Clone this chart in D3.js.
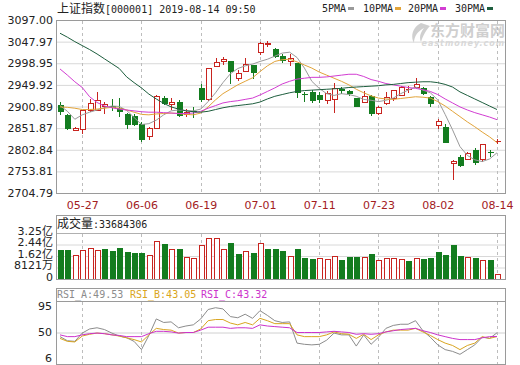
<!DOCTYPE html>
<html>
<head>
<meta charset="utf-8">
<script src="https://cdn.jsdelivr.net/npm/d3@7"></script>
<style>
body { margin: 0; background: #fff; }
text { font-family: "DejaVu Sans", "Noto Sans CJK SC", sans-serif; }
</style>
</head>
<body>
<script>
var width = 520, height = 365;

var dates = ["05-22","05-23","05-24","05-27","05-28","05-29","05-30","05-31","06-03","06-04",
  "06-05","06-06","06-10","06-11","06-12","06-13","06-14","06-17","06-18","06-19",
  "06-20","06-21","06-24","06-25","06-26","06-27","06-28","07-01","07-02","07-03",
  "07-04","07-05","07-08","07-09","07-10","07-11","07-12","07-15","07-16","07-17",
  "07-18","07-19","07-22","07-23","07-24","07-25","07-26","07-29","07-30","07-31",
  "08-01","08-02","08-05","08-06","08-07","08-08","08-09","08-12","08-13","08-14"];

var opens = [2905,2881,2848,2851,2892,2894,2903,2902,2898,2884,
  2879,2861,2833,2853,2920,2907,2911,2885,2891,2942,
  2917,2992,3005,3003,2965,2982,2994,3025,3042,3031,
  3016,3003,2999,2929.5,2934,2928,2915,2917,2940,2935,
  2920,2912,2924,2886,2908,2920,2927,2940,2946,2943,
  2922,2860,2855,2772,2787,2783,2802,2782,2798,2822];
var highs = [2912,2885,2855,2893,2918,2934,2910,2919,2920,2886,
  2883,2866,2855,2927,2925,2920,2915,2895,2899,2953,
  2989,3010,3012,3004,2984,3010,2995,3048,3049,3034,
  3020,3021,3000,2934,2938,2934,2937,2955,2946,2939,
  2921,2937,2926,2901,2934,2938,2947,2947,2966,2946,
  2925,2873,2861,2780,2792,2798,2807,2816,2802,2828];
var lows = [2882,2848,2845,2838,2888,2890,2884,2890,2878,2851,
  2857,2821,2825,2850,2904,2893,2878,2876,2874,2912,
  2914,2990,2995,2952,2958,2980,2963,3017,3035,3010,
  3000,2993,2920,2912,2908,2908,2906,2887,2930,2925,
  2900,2910,2879,2882,2905,2913,2925,2932,2942,2927,
  2900,2851,2820,2734,2764,2780,2769,2776,2787,2817];
var closes = [2891.7,2852.5,2853.0,2892.4,2909.9,2914.7,2905.8,2898.7,2890.1,2862.3,
  2861.4,2827.8,2852.1,2925.7,2909.4,2910.7,2882.0,2887.6,2890.2,2917.8,
  2987.1,3002.0,3008.2,2982.1,2976.3,2996.8,2978.9,3044.9,3043.9,3015.3,
  3005.3,3011.1,2933.4,2928.2,2915.3,2917.8,2930.6,2942.2,2937.6,2931.7,
  2902.0,2924.2,2887.0,2899.9,2923.3,2937.4,2944.5,2941.0,2952.3,2932.5,
  2908.8,2867.8,2821.5,2777.6,2768.7,2794.6,2774.8,2815.0,2797.3,2823.0];

var ma5 = [2903,2890,2872,2882,2888,2893,2898,2902,2901,2892,
  2876,2860,2862,2870,2882,2891,2893,2892,2891,2895,
  2912,2932,2955,2975,2987,2993,2997,3003,3008,3015,
  3022,3024,3012,2988,2958,2942,2930,2926,2930,2928,
  2924,2917,2915,2912,2915,2920,2930,2938,2945,2938,
  2932,2916,2883,2848,2810,2790,2780,2776,2782,2796];
var ma10 = [2900,2899,2897,2894,2894,2895,2897,2899,2897,2893,
  2888,2883,2882,2884,2885,2886,2885,2883,2882,2886,
  2900,2916,2930,2940,2950,2958,2966,2980,2993,3003,
  3007,3008,3002,2995,2988,2979,2972,2965,2958,2950,
  2940,2932,2925,2920,2918,2917,2919,2921,2923,2922,
  2920,2912,2902,2890,2878,2866,2855,2843,2832,2819];
var ma20 = [2986,2972,2957,2944,2923,2910,2902,2898,2895,2893,
  2891,2889,2888,2888,2887,2886,2885,2885,2886,2890,
  2897,2903,2909,2912,2914,2917,2920,2927,2935,2943,
  2952,2958,2963,2965,2967,2967,2968,2970,2972,2974,
  2974,2969,2962,2958,2953,2950,2947,2944,2942,2939,
  2935,2928,2918,2909,2900,2893,2887,2882,2877,2871];
var ma30 = [3067,3058,3048,3039,3030,3020,3009,2998,2987,2968,
  2955,2943,2929,2918,2908,2900,2895,2891,2889,2888,
  2890,2894,2898,2901,2903,2905,2907,2911,2918,2924,
  2928,2932,2935,2937,2938,2939,2940,2941,2942,2944,
  2945,2946,2947,2948,2950,2951,2953,2955,2956,2957,
  2957,2955,2951,2945,2934,2926,2918,2910,2902,2894];

// volume in 亿 (100 million)
var volumes = [2.03,2.03,1.68,2.03,2.22,2.03,2.10,1.99,2.17,1.92,
  1.85,1.85,1.68,2.66,2.45,2.15,2.15,1.52,1.45,2.38,
  2.92,2.92,2.15,2.55,1.75,1.96,1.85,2.57,2.15,2.15,
  1.96,1.61,2.15,1.45,1.38,1.45,1.38,1.64,1.33,1.52,
  1.52,1.52,1.80,1.33,1.50,1.45,1.38,1.26,1.45,1.40,
  1.45,1.89,1.68,2.38,1.61,1.52,1.45,1.33,1.33,0.337];
var volUp = [0,0,1,1,1,1,0,0,0,0,
  0,0,1,1,0,1,0,1,1,1,
  1,1,1,0,0,1,0,1,0,0,
  0,1,0,0,0,1,1,1,0,0,
  0,1,0,1,1,1,1,0,1,0,
  0,0,0,0,0,1,0,1,0,1];

var rsiA = [43,36,35,49,56,58,55,49,44,41,
  35,21,45,73,67,68,58,61,63,73,
  89,92,90,77,75,81,74,87,79,70,
  67,68,32,30,29,30,37,49,46,46,
  27,46,30,42,57,62,64,64,70,53,
  42,29,21,18,13,21,29,42,40,49.53];
var rsiB = [40,35,34,44,47,49,48,46,44,41,
  38,34,46,57,55,54,49,50,50,56,
  70,72,72,66,63,67,63,74,70,65,
  65,65,46,43,43,43,46,51,48,47,
  40,47,38,46,51,54,54,54,57,51,
  45,38,32,28,21,28,32,43,40,43.05];
var rsiC = [46,43,43,46,48,49,48,46,45,43,
  43,43,48,52,52,51,49,50,50,54,
  59,59,59,57,58,58,57,63,61,60,
  59,58,50,50,50,50,51,52,51,50,
  47,48,47,48,51,53,55,56,57,53,
  50,46,43,40,38,38,38,41,43,43.32];

var priceTicks = [2704.79,2753.81,2802.84,2851.87,2900.89,2949.92,2998.95,3047.97,3097.00];
var dateTicks = ["05-27","06-06","06-19","07-01","07-11","07-23","08-02","08-14"];
var volTicks = [0,0.8121,1.6242,2.4363,3.2484];
var volTickLabels = ["0","8121万","1.62亿","2.44亿","3.25亿"];
var rsiTicks = [6,50,95];

var red = "#c8241f", green = "#137c1f";
var maColors = ["#9a9a9a","#e2a43a","#d23dd2","#1e5e3e"];
var maNames = ["5PMA","10PMA","20PMA","30PMA"];

var left = 56, right = 505;

var svg = d3.select("body").append("svg")
    .attr("width", width)
    .attr("height", height);

var x = d3.scalePoint().domain(dates).range([60, 497]);
var y = d3.scaleLinear().domain([2704.79, 3097]).range([193, 20]);
var yv = d3.scaleLinear().domain([0, 3.2484]).range([279, 233]);
var yr = d3.scaleLinear().domain([0, 100]).range([362, 303]);

function px(d) { return Math.round(x(d)); }

// title
var title = svg.append("text").attr("x", 57).attr("y", 13).attr("fill", "#222");
title.append("tspan").style("font-family", "'Noto Sans CJK SC'").attr("font-size", 12).text("上证指数");
title.append("tspan").style("font-family", "'DejaVu Sans Mono'").attr("font-size", 10).text("[000001] 2019-08-14 09:50");

// legend
var legX = [322, 363, 408, 455];
maNames.forEach(function (n, i) {
    svg.append("text").attr("x", legX[i]).attr("y", 12)
        .style("font-family", "'DejaVu Sans Mono'").attr("font-size", 10).attr("fill", "#222").text(n);
    svg.append("rect").attr("x", legX[i] + n.length * 6 + 2).attr("y", 7)
        .attr("width", 6).attr("height", 3).attr("fill", maColors[i]);
});

// watermark
var wm = svg.append("g").attr("opacity", 0.6);
wm.append("path").attr("d", "M421,23 C413,27 410,36 414,43 C414,36 418,31 424,28 C420,33 419,38 421,42 C423,35 427,29 430,26 Z")
    .attr("fill", "#b0b0b0");
wm.append("text").attr("x", 505).attr("y", 36).attr("text-anchor", "end")
    .style("font-family", "'Noto Sans CJK SC'").attr("font-size", 15).attr("font-weight", "bold")
    .attr("fill", "#b0b0b0").text("东方财富网");
wm.append("text").attr("x", 505).attr("y", 46).attr("text-anchor", "end")
    .attr("font-size", 8).attr("font-weight", "bold").attr("font-style", "italic")
    .attr("letter-spacing", 1).attr("fill", "#c0c0c0").text("eastmoney.com");

// ---------- main price panel ----------
svg.append("g").attr("transform", "translate(" + left + ",0)")
    .call(d3.axisLeft(y).tickValues(priceTicks).tickSize(-(right - left)).tickFormat(""))
    .call(function (g) { g.select(".domain").remove(); })
    .selectAll("line").attr("stroke", "#d8d8d8");

svg.append("g").attr("transform", "translate(" + (left - 1) + ",0)")
    .call(d3.axisLeft(y).tickValues(priceTicks).tickSize(0).tickPadding(2).tickFormat(d3.format(".2f")))
    .call(function (g) { g.select(".domain").remove(); })
    .selectAll("text").attr("font-size", 11).attr("fill", "#222").style("font-family", "'DejaVu Sans'");

svg.append("g").attr("transform", "translate(0,193)")
    .call(d3.axisBottom(x).tickValues(dateTicks).tickSize(0).tickPadding(8))
    .call(function (g) { g.select(".domain").remove(); })
    .selectAll("text").attr("font-size", 11).attr("fill", "#a3201e").style("font-family", "'DejaVu Sans'");

function vLines(y0, y1) {
    svg.append("g").selectAll("line").data(dateTicks).enter().append("line")
        .attr("x1", function (d) { return px(d) + 0.5; })
        .attr("x2", function (d) { return px(d) + 0.5; })
        .attr("y1", y0).attr("y2", y1)
        .attr("stroke", "#bdbdbd").attr("stroke-dasharray", "3,3");
}
vLines(21, 193);

svg.append("defs").append("clipPath").attr("id", "clipMain")
    .append("rect").attr("x", left).attr("y", 20).attr("width", right - left).attr("height", 173);

var candles = dates.map(function (d, i) {
    return {date: d, o: opens[i], h: highs[i], l: lows[i], c: closes[i], up: closes[i] >= opens[i]};
});

var cg = svg.append("g");
cg.selectAll("line.wick").data(candles).enter().append("line")
    .attr("class", "wick")
    .attr("x1", function (d) { return px(d.date) + 0.5; })
    .attr("x2", function (d) { return px(d.date) + 0.5; })
    .attr("y1", function (d) { return Math.round(y(d.h)); })
    .attr("y2", function (d) { return Math.round(y(d.l)); })
    .attr("stroke", function (d) { return d.up ? red : green; });
cg.selectAll("rect.body").data(candles).enter().append("rect")
    .attr("class", "body")
    .attr("x", function (d) { return px(d.date) - 2 + 0.5; })
    .attr("y", function (d) { return Math.round(y(Math.max(d.o, d.c))) + 0.5; })
    .attr("width", 5)
    .attr("height", function (d) { return Math.max(0.01, Math.round(y(Math.min(d.o, d.c))) - Math.round(y(Math.max(d.o, d.c)))); })
    .attr("fill", function (d) { return d.up ? "#fff" : green; })
    .attr("stroke", function (d) { return d.up ? red : green; });

var maLine = d3.line()
    .x(function (d, i) { return x(dates[i]); })
    .y(function (d) { return y(d); });
var mg = svg.append("g").attr("clip-path", "url(#clipMain)");
[ma5, ma10, ma20, ma30].forEach(function (s, i) {
    mg.append("path").datum(s).attr("d", maLine)
        .attr("fill", "none").attr("stroke", maColors[i]).attr("stroke-width", 1);
});

svg.append("rect").attr("x", left + 0.5).attr("y", 20.5).attr("width", right - left).attr("height", 173)
    .attr("fill", "none").attr("stroke", "#9a9a9a");

// ---------- volume panel ----------
svg.append("g").attr("transform", "translate(" + left + ",0)")
    .call(d3.axisLeft(yv).tickValues(volTicks.slice(1, 4)).tickSize(-(right - left)).tickFormat(""))
    .call(function (g) { g.select(".domain").remove(); })
    .selectAll("line").attr("stroke", "#d8d8d8");
vLines(234, 279);

svg.append("g").attr("transform", "translate(" + (left - 2) + ",0)")
    .call(d3.axisLeft(yv).tickValues(volTicks).tickSize(0).tickPadding(1)
        .tickFormat(function (d, i) { return volTickLabels[i]; }))
    .call(function (g) { g.select(".domain").remove(); })
    .selectAll("text").attr("font-size", 11).attr("dy", "0.12em").attr("fill", "#222");

var vols = dates.map(function (d, i) { return {date: d, v: volumes[i], up: volUp[i] === 1}; });
svg.append("g").selectAll("rect").data(vols).enter().append("rect")
    .attr("x", function (d) { return px(d.date) - 2 + 0.5; })
    .attr("y", function (d) { return Math.round(yv(d.v)) + 0.5; })
    .attr("width", 5)
    .attr("height", function (d) { return 279 - Math.round(yv(d.v)); })
    .attr("fill", function (d) { return d.up ? "#fff" : green; })
    .attr("stroke", function (d) { return d.up ? red : green; });

svg.append("line").attr("x1", left).attr("x2", right).attr("y1", 233.5).attr("y2", 233.5).attr("stroke", "#b0b0b0");
svg.append("rect").attr("x", left + 0.5).attr("y", 215.5).attr("width", right - left).attr("height", 64)
    .attr("fill", "none").attr("stroke", "#9a9a9a");
var vt = svg.append("text").attr("x", 57).attr("y", 228).attr("fill", "#222");
vt.append("tspan").style("font-family", "'Noto Sans CJK SC'").attr("font-size", 12).text("成交量");
vt.append("tspan").style("font-family", "'DejaVu Sans Mono'").attr("font-size", 10).text(":33684306");

// ---------- RSI panel ----------
svg.append("g").attr("transform", "translate(" + left + ",0)")
    .call(d3.axisLeft(yr).tickValues([50]).tickSize(-(right - left)).tickFormat(""))
    .call(function (g) { g.select(".domain").remove(); })
    .selectAll("line").attr("stroke", "#d0d0d0");
vLines(302, 364);

svg.append("g").attr("transform", "translate(" + (left - 3) + ",0)")
    .call(d3.axisLeft(yr).tickValues(rsiTicks).tickSize(0).tickPadding(1))
    .call(function (g) { g.select(".domain").remove(); })
    .selectAll("text").attr("font-size", 11).attr("dy", "0.3em").attr("fill", "#222");

var rsiColors = ["#8c8c8c", "#d9a520", "#cc33cc"];
var rsiLine = d3.line()
    .x(function (d, i) { return x(dates[i]); })
    .y(function (d) { return yr(d); });
[rsiA, rsiB, rsiC].forEach(function (s, i) {
    svg.append("path").datum(s).attr("d", rsiLine)
        .attr("fill", "none").attr("stroke", rsiColors[i]).attr("stroke-width", 1);
});

svg.append("line").attr("x1", left).attr("x2", right).attr("y1", 301.5).attr("y2", 301.5).attr("stroke", "#9a9a9a");
svg.append("rect").attr("x", left + 0.5).attr("y", 288.5).attr("width", right - left).attr("height", 76)
    .attr("fill", "none").attr("stroke", "#9a9a9a");

var rsiLabels = ["RSI_A:49.53", "RSI_B:43.05", "RSI_C:43.32"];
var rsiLabelX = [57, 130, 201];
rsiLabels.forEach(function (t, i) {
    svg.append("text").attr("x", rsiLabelX[i]).attr("y", 298)
        .style("font-family", "'DejaVu Sans Mono'").attr("font-size", 10)
        .attr("fill", rsiColors[i]).text(t);
});
</script>
</body>
</html>
